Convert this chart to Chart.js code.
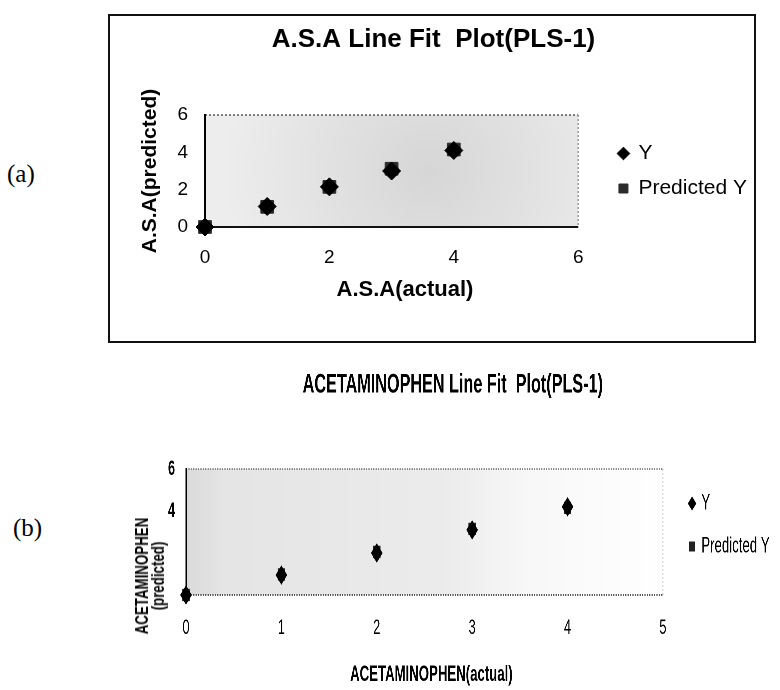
<!DOCTYPE html>
<html>
<head>
    <title>PLS-1 Line Fit Plots</title>
    <script src="https://cdn.jsdelivr.net/npm/chart.js"></script>
    <style>
        html, body {
            margin: 0;
            padding: 0;
            background: #fff;
            overflow: hidden;
        }
        body {
            width: 780px;
            height: 690px;
            position: relative;
        }
        .tag {
            position: absolute;
            font-family: 'Liberation Serif', 'Times New Roman', serif;
            font-size: 25px;
            line-height: 25px;
            color: #000;
        }
        #wrapA {
            position: absolute;
            left: 110px;
            top: 16px;
            width: 647px;
            height: 325px;
        }
        #boxA {
            position: absolute;
            left: 108px;
            top: 14px;
            width: 648px;
            height: 329px;
            border: 2px solid #111;
            box-sizing: border-box;
            pointer-events: none;
        }
        /* chart (b) is squeezed sideways like the scanned original */
        #wrapB {
            position: absolute;
            left: 100px;
            top: 360px;
            width: 1126px;
            height: 330px;
            transform: scaleX(0.6);
            transform-origin: 0 0;
        }
        #ytB {
            position: absolute;
            left: 55px;
            top: 560px;
            width: 190px;
            height: 32px;
            font: bold 19px/16px 'Liberation Sans', Arial, sans-serif;
            text-align: center;
            white-space: nowrap;
            color: #000;
            transform: rotate(-90deg) scaleX(0.7);
        }
    </style>
</head>
<body>
    <div class="tag" style="left:7px; top:161px">(a)</div>
    <div id="wrapA"><canvas id="chartA"></canvas></div>
    <div id="boxA"></div>

    <div class="tag" style="left:13px; top:515px">(b)</div>
    <div id="wrapB"><canvas id="chartB"></canvas></div>
    <div id="ytB">ACETAMINOPHEN<br>(predicted)</div>

    <script>
        // (a) A.S.A
        const aActual = [0, 1, 2, 3, 4];
        const aY = [0, 1.1, 2.15, 3.0, 4.1];
        const aPredicted = [0, 1.08, 2.15, 3.12, 4.15];
        const aXTicks = [0, 2, 4, 6];
        const aYTicks = [0, 2, 4, 6];

        // (b) ACETAMINOPHEN
        const bActual = [0, 1, 2, 3, 4];
        const bY = [0, 0.95, 2.0, 3.1, 4.2];
        const bPredicted = [0, 0.98, 2.05, 3.15, 4.15];
        const bXTicks = [0, 1, 2, 3, 4, 5];
        const bYTicks = [4, 6];   // 0 and 2 are hidden under the axis title in the original

        const FONT = "'Liberation Sans', Arial, sans-serif";
        Chart.defaults.color = '#000';

        function pts(xs, ys) {
            return xs.map((x, i) => ({ x: x, y: ys[i] }));
        }

        function useTicks(list) {
            return scale => { scale.ticks = list.map(v => ({ value: v })); };
        }

        // grey plot frame that stops at the last x tick; the x axis runs a bit
        // further so there is some white room before the legend
        function plotFrame(o) {
            return {
                id: 'plotFrame',
                beforeDraw(chart) {
                    const ctx = chart.ctx;
                    const a = chart.chartArea;
                    const right = chart.scales.x.getPixelForValue(o.xEnd);
                    ctx.save();
                    ctx.fillStyle = o.paint(ctx, a, right);
                    ctx.fillRect(a.left, a.top, right - a.left, a.bottom - a.top);

                    ctx.lineWidth = 1.5;
                    ctx.setLineDash([2, 2]);
                    ctx.strokeStyle = o.top;
                    ctx.beginPath();
                    ctx.moveTo(a.left, a.top);
                    ctx.lineTo(right, a.top);
                    ctx.stroke();
                    ctx.strokeStyle = o.right;
                    ctx.beginPath();
                    ctx.moveTo(right, a.top);
                    ctx.lineTo(right, a.bottom);
                    ctx.stroke();

                    ctx.lineWidth = o.bottom.width;
                    ctx.setLineDash(o.bottom.dash);
                    ctx.strokeStyle = o.bottom.color;
                    ctx.beginPath();
                    ctx.moveTo(a.left, a.bottom);
                    ctx.lineTo(right, a.bottom);
                    ctx.stroke();
                    ctx.restore();
                }
            };
        }

        new Chart(document.getElementById('chartA'), {
            type: 'scatter',
            data: {
                datasets: [
                    {
                        label: 'Y',
                        data: pts(aActual, aY),
                        pointStyle: 'rectRot',
                        pointRadius: 9,
                        backgroundColor: '#000',
                        borderColor: '#000',
                        clip: false
                    },
                    {
                        label: 'Predicted Y',
                        data: pts(aActual, aPredicted),
                        pointStyle: 'rect',
                        pointRadius: 9,
                        backgroundColor: '#2b2b2b',
                        borderColor: '#2b2b2b',
                        clip: false
                    }
                ]
            },
            options: {
                responsive: true,
                maintainAspectRatio: false,
                animation: false,
                layout: { padding: 0 },
                plugins: {
                    title: {
                        display: true,
                        text: 'A.S.A Line Fit  Plot(PLS-1)',
                        color: '#000',
                        font: { family: FONT, size: 26, weight: 'bold' },
                        padding: { top: 8.4, bottom: 59.4 }
                    },
                    legend: {
                        position: 'right',
                        fullSize: false,
                        labels: {
                            usePointStyle: true,
                            boxWidth: 9,
                            boxHeight: 9,
                            padding: 14,
                            color: '#000',
                            font: { family: FONT, size: 21 }
                        }
                    },
                    tooltip: { enabled: false }
                },
                scales: {
                    x: {
                        type: 'linear',
                        min: 0,
                        max: 6.43,
                        afterBuildTicks: useTicks(aXTicks),
                        afterFit: s => { s.height = 114; },
                        grid: { display: false, drawTicks: false },
                        border: { display: false },
                        ticks: { padding: 19, color: '#000', font: { family: FONT, size: 19 } },
                        title: {
                            display: true,
                            text: 'A.S.A(actual)',
                            color: '#000',
                            font: { family: FONT, size: 22, weight: 'bold' },
                            padding: { top: 0, bottom: 37.8 }
                        }
                    },
                    y: {
                        type: 'linear',
                        min: 0,
                        max: 6,
                        afterBuildTicks: useTicks(aYTicks),
                        afterFit: s => { s.width = 95; },
                        grid: { display: false, drawTicks: false },
                        border: { display: true, color: '#000', width: 2 },
                        ticks: { padding: 17, color: '#000', font: { family: FONT, size: 19 } },
                        title: {
                            display: true,
                            text: 'A.S.A(predicted)',
                            color: '#000',
                            font: { family: FONT, size: 21, weight: 'bold' },
                            padding: { top: 27.4, bottom: 0 }
                        }
                    }
                }
            },
            plugins: [plotFrame({
                xEnd: 6,
                paint: (ctx, a, right) => {
                    const cx = a.left + (right - a.left) * 0.6;
                    const cy = (a.top + a.bottom) / 2;
                    const g = ctx.createRadialGradient(cx, cy, 0, cx, cy, (right - a.left) * 0.55);
                    g.addColorStop(0, '#d6d6d6');
                    g.addColorStop(1, '#ededed');
                    return g;
                },
                top: '#555',
                right: '#9a9a9a',
                bottom: { color: '#111', width: 2, dash: [] }
            })]
        });

        new Chart(document.getElementById('chartB'), {
            type: 'scatter',
            data: {
                datasets: [
                    {
                        label: 'Y',
                        data: pts(bActual, bY),
                        pointStyle: 'rectRot',
                        pointRadius: 9,
                        backgroundColor: '#000',
                        borderColor: '#000',
                        clip: false
                    },
                    {
                        label: 'Predicted Y',
                        data: pts(bActual, bPredicted),
                        pointStyle: 'rect',
                        pointRadius: 8,
                        backgroundColor: '#222',
                        borderColor: '#222',
                        clip: false
                    }
                ]
            },
            options: {
                responsive: true,
                maintainAspectRatio: false,
                animation: false,
                devicePixelRatio: 2,
                layout: { padding: { left: 50 } },
                plugins: {
                    title: {
                        display: true,
                        text: 'ACETAMINOPHEN Line Fit  Plot(PLS-1)',
                        color: '#000',
                        font: { family: FONT, size: 27, weight: 'bold' },
                        padding: { top: 8.8, bottom: 67.8 }
                    },
                    legend: {
                        position: 'right',
                        labels: {
                            usePointStyle: true,
                            boxWidth: 9,
                            boxHeight: 9,
                            padding: 21,
                            color: '#000',
                            font: { family: FONT, size: 22 }
                        }
                    },
                    tooltip: { enabled: false }
                },
                scales: {
                    x: {
                        type: 'linear',
                        min: 0,
                        max: 5.145,
                        afterBuildTicks: useTicks(bXTicks),
                        afterFit: s => { s.height = 95; },
                        grid: { display: false, drawTicks: false },
                        border: { display: false },
                        ticks: { padding: 20.4, color: '#000', font: { family: FONT, size: 21 } },
                        title: {
                            display: true,
                            text: 'ACETAMINOPHEN(actual)',
                            color: '#000',
                            font: { family: FONT, size: 22, weight: 'bold' },
                            padding: { top: 0, bottom: 1.8 }
                        }
                    },
                    y: {
                        type: 'linear',
                        min: 0,
                        max: 6,
                        afterBuildTicks: useTicks(bYTicks),
                        afterFit: s => { s.width = 93.3; },
                        grid: { display: false, drawTicks: false },
                        border: { display: true, color: '#000', width: 2 },
                        ticks: { padding: 18.3, color: '#000', font: { family: FONT, size: 21, weight: 'bold' } },
                        title: { display: false }
                    }
                }
            },
            plugins: [plotFrame({
                xEnd: 5,
                paint: (ctx, a, right) => {
                    const g = ctx.createLinearGradient(a.left, 0, right, 0);
                    g.addColorStop(0, '#dadada');
                    g.addColorStop(0.08, '#e5e5e5');
                    g.addColorStop(0.55, '#ececec');
                    g.addColorStop(0.72, '#f8f8f8');
                    g.addColorStop(1, '#ffffff');
                    return g;
                },
                top: '#666',
                right: '#aaa',
                bottom: { color: '#222', width: 1.5, dash: [2, 2] }
            })]
        });
    </script>
</body>
</html>
